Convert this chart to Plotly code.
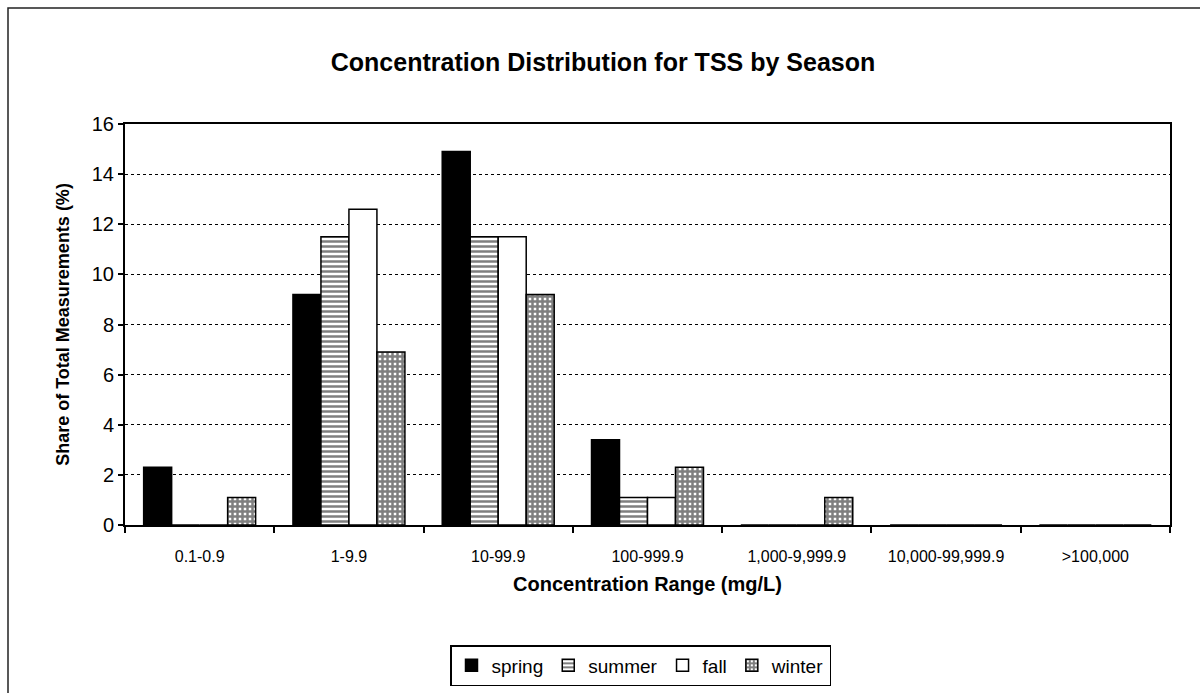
import plotly.graph_objects as go

categories = ["0.1-0.9", "1-9.9", "10-99.9", "100-999.9", "1,000-9,999.9",
              "10,000-99,999.9", ">100,000"]
spring = [2.3, 9.2, 14.9, 3.4, 0, 0, 0]
summer = [0, 11.5, 11.5, 1.1, 0, 0, 0]
fall = [0, 12.6, 11.5, 1.1, 0, 0, 0]
winter = [1.1, 6.9, 9.2, 2.3, 1.1, 0, 0]
y_ticks = [0, 2, 4, 6, 8, 10, 12, 14, 16]

FONT = "Arial, 'Liberation Sans', Helvetica, sans-serif"
OUTLINE = dict(color="black", width=1.5)

fig = go.Figure()
fig.add_trace(go.Bar(name="spring", x=categories, y=spring,
                     marker=dict(color="black", line=OUTLINE)))
fig.add_trace(go.Bar(name="summer", x=categories, y=summer,
                     marker=dict(color="white", line=OUTLINE,
                                 pattern=dict(shape="-", fgcolor="black", bgcolor="white",
                                              size=5, solidity=0.5, fillmode="overlay"))))
fig.add_trace(go.Bar(name="fall", x=categories, y=fall,
                     marker=dict(color="white", line=OUTLINE)))
fig.add_trace(go.Bar(name="winter", x=categories, y=winter,
                     marker=dict(color="white", line=OUTLINE,
                                 pattern=dict(shape="+", fgcolor="black", bgcolor="white",
                                              size=5, solidity=0.75, fillmode="overlay"))))

L, R, T, B = 125, 1170, 124, 525
W, H = 1200, 693
pw, ph = R - L, B - T

fig.update_layout(
    width=W, height=H,
    margin=dict(l=L, r=W - R, t=T, b=H - B, autoexpand=False),
    paper_bgcolor="white", plot_bgcolor="white",
    font=dict(family=FONT, color="black", size=16),
    barmode="group", bargap=0.25, bargroupgap=0,
    title=dict(text="<b>Concentration Distribution for TSS by Season</b>",
               x=0.5025, xanchor="center", xref="container",
               y=1 - 62 / H, yanchor="middle", yref="container",
               font=dict(size=25, family=FONT, color="black")),
    legend=dict(orientation="h", x=(450 - L) / pw, xanchor="left",
                y=(B - 645) / ph, yanchor="top",
                bordercolor="black", borderwidth=1.5, bgcolor="white",
                font=dict(size=19, family=FONT, color="black"),
                itemwidth=30, traceorder="normal"),
    xaxis=dict(type="category", categoryorder="array", categoryarray=categories,
               tickson="boundaries", ticks="outside", ticklen=6, tickwidth=1.5,
               tickcolor="black", showline=True, linecolor="black", linewidth=2,
               mirror=True, showgrid=False, tickfont=dict(size=16),
               ticklabelstandoff=16,
               title=dict(text="<b>Concentration Range (mg/L)</b>",
                          font=dict(size=20), standoff=13)),
    yaxis=dict(range=[0, 16], tickvals=y_ticks, ticks="outside", ticklen=5,
               tickwidth=1.5, tickcolor="black", showline=True, linecolor="black",
               linewidth=2, mirror=True, showgrid=True, gridcolor="black",
               gridwidth=1, griddash="dot", zeroline=False,
               tickfont=dict(size=20),
               title=dict(text="<b>Share of Total Measurements (%)</b>",
                          font=dict(size=18), standoff=17)),
    shapes=[dict(type="rect", xref="paper", yref="paper",
                 x0=(8 - L) / pw, x1=(W + 20 - L) / pw,
                 y0=(B - (H + 20)) / ph, y1=(B - 8) / ph,
                 line=dict(color="#222", width=1.5), fillcolor="rgba(0,0,0,0)",
                 layer="below")],
)

fig.write_html("out.html")
